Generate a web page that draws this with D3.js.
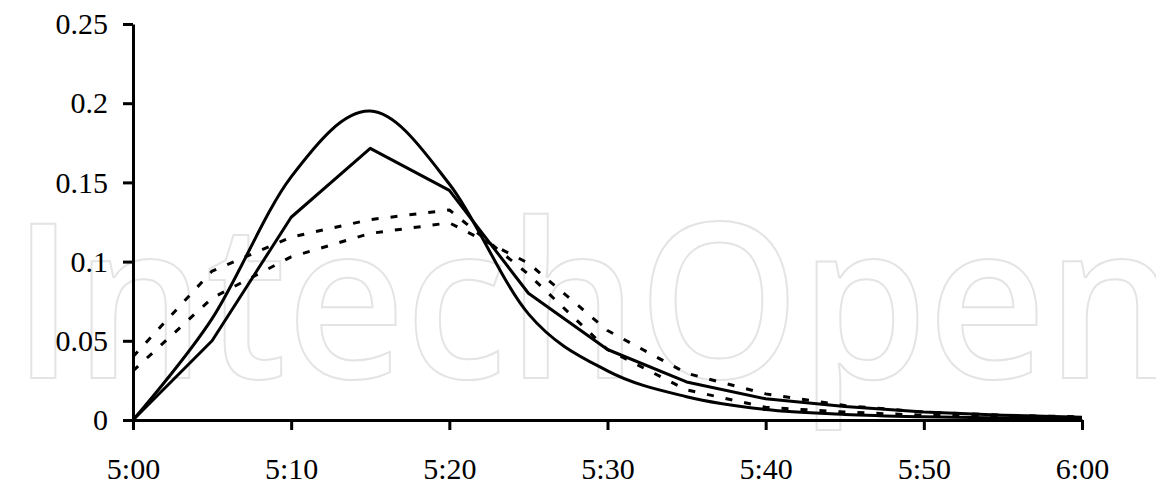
<!DOCTYPE html>
<html>
<head>
<meta charset="utf-8">
<script src="https://cdn.jsdelivr.net/npm/d3@7/dist/d3.min.js"></script>
<style>
  html, body { margin: 0; padding: 0; background: #fff; }
  svg { display: block; }
</style>
</head>
<body>
<svg id="chart" width="1156" height="487"></svg>
<script>
// ---- data ----
const minutes = [0, 5, 10, 15, 20, 25, 30, 35, 40, 45, 50, 55, 60];
const xTickValues = [0, 10, 20, 30, 40, 50, 60];
const xTickLabels = ["5:00", "5:10", "5:20", "5:30", "5:40", "5:50", "6:00"];
const yTickValues = [0, 0.05, 0.1, 0.15, 0.2, 0.25];
const yTickLabels = ["0", "0.05", "0.1", "0.15", "0.2", "0.25"];

const smoothSeries = [0, 0.064, 0.1535, 0.195, 0.149, 0.067, 0.031, 0.0147, 0.0066, 0.0035, 0.002, 0.0012, 0.0008];
const solidSeries  = [0, 0.050, 0.128, 0.1715, 0.145, 0.080, 0.0445, 0.024, 0.0134, 0.0085, 0.005, 0.003, 0.0018];
const dottedA      = [0.040, 0.094, 0.1155, 0.1265, 0.1326, 0.092, 0.0445, 0.019, 0.008, 0.005, 0.003, 0.002, 0.0015];
const dottedB      = [0.031, 0.077, 0.103, 0.1178, 0.1245, 0.099, 0.0565, 0.0295, 0.0165, 0.0091, 0.005, 0.003, 0.002];

const watermark = "IntechOpen";

// ---- drawing ----
const svg = d3.select("#chart");
svg.append("rect").attr("width", 1156).attr("height", 487).attr("fill", "#fff");

// faint outlined watermark behind the chart
svg.append("text")
  .attr("x", 12).attr("y", 378)
  .attr("textLength", 1165).attr("lengthAdjust", "spacingAndGlyphs")
  .style("font-family", "'Open Sans', 'DejaVu Sans', sans-serif")
  .style("font-weight", 600)
  .style("font-size", "216px")
  .attr("fill", "#fff").attr("stroke", "#e4e4e4").attr("stroke-width", 2)
  .text(watermark);

const x = d3.scaleLinear().domain([0, 60]).range([133, 1082]);
const y = d3.scaleLinear().domain([0, 0.25]).range([420, 24]);

const fontFam = "'Liberation Serif', 'Times New Roman', serif";

const yAxis = svg.append("g").attr("transform", "translate(133,0)")
  .call(d3.axisLeft(y).tickValues(yTickValues)
    .tickFormat((d, i) => yTickLabels[i])
    .tickSize(10).tickSizeOuter(0).tickPadding(15));
const xAxis = svg.append("g").attr("transform", "translate(0,420)")
  .call(d3.axisBottom(x).tickValues(xTickValues)
    .tickFormat((d, i) => xTickLabels[i])
    .tickSize(10).tickSizeOuter(0));

[yAxis, xAxis].forEach(g => {
  g.select(".domain").attr("stroke", "#000").attr("stroke-width", 3);
  g.selectAll(".tick line").attr("stroke", "#000").attr("stroke-width", 3);
  g.selectAll(".tick text").attr("fill", "#000")
    .style("font-family", fontFam).style("font-size", "30px");
});
xAxis.selectAll(".tick text").attr("y", 59).attr("dy", 0);

const pts = vals => vals.map((v, i) => [minutes[i], v]);

const lineLinear = d3.line().x(d => x(d[0])).y(d => y(d[1])).curve(d3.curveLinear);
const lineSmooth = d3.line().x(d => x(d[0])).y(d => y(d[1])).curve(d3.curveCardinal.tension(0));

const plot = svg.append("g").attr("fill", "none").attr("stroke", "#000")
  .attr("stroke-linejoin", "round");

plot.append("path").attr("d", lineLinear(pts(dottedA)))
  .attr("stroke-width", 3).attr("stroke-dasharray", "7,12");
plot.append("path").attr("d", lineLinear(pts(dottedB)))
  .attr("stroke-width", 3).attr("stroke-dasharray", "7,12");
plot.append("path").attr("d", lineLinear(pts(solidSeries)))
  .attr("stroke-width", 3);
plot.append("path").attr("d", lineSmooth(pts(smoothSeries)))
  .attr("stroke-width", 3);
</script>
</body>
</html>
